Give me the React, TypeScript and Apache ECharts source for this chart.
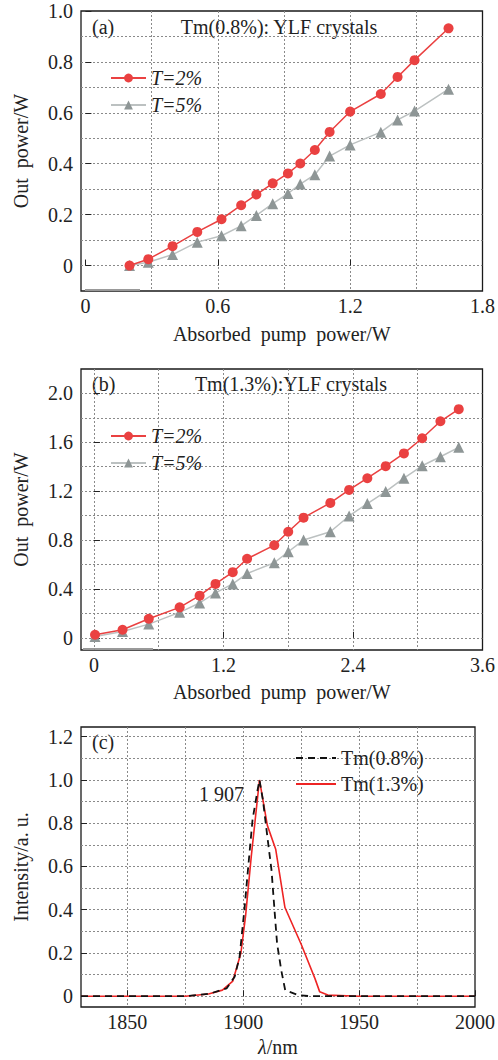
import React, { useEffect, useRef } from "react";
import * as echarts from "echarts";

// ---- Panel (a): Tm(0.8%):YLF ----
const pumpA = [0.2, 0.285, 0.395, 0.507, 0.617, 0.706, 0.775, 0.849, 0.918, 0.974, 1.04, 1.107, 1.2, 1.339, 1.415, 1.492, 1.646];
const outA_T2 = [0, 0.025, 0.076, 0.132, 0.182, 0.237, 0.279, 0.323, 0.362, 0.401, 0.454, 0.525, 0.605, 0.674, 0.741, 0.807, 0.932];
const outA_T5 = [0, 0.013, 0.043, 0.092, 0.117, 0.156, 0.197, 0.243, 0.283, 0.32, 0.357, 0.43, 0.474, 0.524, 0.572, 0.607, 0.693];

// ---- Panel (b): Tm(1.3%):YLF ----
const pumpB = [0.01, 0.265, 0.508, 0.794, 0.979, 1.126, 1.286, 1.419, 1.671, 1.8, 1.942, 2.19, 2.364, 2.533, 2.703, 2.872, 3.041, 3.21, 3.38];
const outB_T2 = [0.025, 0.066, 0.156, 0.249, 0.345, 0.441, 0.537, 0.647, 0.758, 0.868, 0.983, 1.104, 1.21, 1.306, 1.405, 1.509, 1.633, 1.772, 1.871];
const outB_T5 = [0.011, 0.052, 0.112, 0.208, 0.285, 0.367, 0.441, 0.526, 0.614, 0.704, 0.8, 0.868, 0.997, 1.099, 1.197, 1.306, 1.408, 1.482, 1.559];

// ---- Panel (c): spectra ----
const wl08 = [1830, 1850, 1875, 1885.7, 1892.8, 1896.3, 1898.4, 1900.5, 1902, 1904, 1906.2, 1907, 1908.5, 1910.4, 1912.2, 1913.6, 1914.6, 1916.4, 1918.1, 1923.7, 1929, 1950, 1975, 2000];
const int08 = [0, 0, 0, 0.012, 0.036, 0.09, 0.18, 0.4, 0.58, 0.815, 0.954, 1.0, 0.907, 0.738, 0.583, 0.383, 0.244, 0.12, 0.028, 0.005, 0, 0, 0, 0];
const wl13 = [1830, 1850, 1875, 1885, 1891, 1895.5, 1899, 1901, 1903.5, 1907, 1910.4, 1914, 1918, 1925, 1931, 1933, 1936.5, 1950, 1975, 2000];
const int13 = [0, 0, 0, 0.01, 0.028, 0.07, 0.2, 0.37, 0.65, 1.0, 0.79, 0.68, 0.41, 0.24, 0.08, 0.02, 0.005, 0, 0, 0];

// ---- Tick / grid values ----
const xTicksA = [0, 0.6, 1.2, 1.8];
const xGridA = [0.3, 0.6, 0.9, 1.2, 1.5];
const yTicksA = [0, 0.2, 0.4, 0.6, 0.8, 1.0];
const yGridA = [0, 0.1, 0.2, 0.3, 0.4, 0.5, 0.6, 0.7, 0.8, 0.9];

const xTicksB = [0, 1.2, 2.4, 3.6];
const xGridB = [0, 0.6, 1.2, 1.8, 2.4, 3.0];
const yTicksB = [0, 0.4, 0.8, 1.2, 1.6, 2.0];
const yGridB = [0, 0.2, 0.4, 0.6, 0.8, 1.0, 1.2, 1.4, 1.6, 1.8, 2.0];

const xTicksC = [1850, 1900, 1950, 2000];
const xGridC = [1850, 1875, 1900, 1925, 1950, 1975];
const yTicksC = [0, 0.2, 0.4, 0.6, 0.8, 1.0, 1.2];
const yGridC = [0, 0.1, 0.2, 0.3, 0.4, 0.5, 0.6, 0.7, 0.8, 0.9, 1.0, 1.1, 1.2];

const FONT = '"Liberation Serif", "DejaVu Serif", serif';
const INK = "#222";
const RED = "#ea4141";
const GRAY_SYM = "#8e9696";
const GRAY_LINE = "#bcc1c1";

const zip = (xs: number[], ys: number[]) => xs.map((x, i) => [x, ys[i]]);
const fmt1 = (v: number) => (v === 0 ? "0" : v.toFixed(1));

function mainX(grid: number, min: number, max: number, ticks: number[], fmt: (v: number) => string, name: any, nameGap: number, rich?: any) {
  return {
    gridIndex: grid, type: "value", min, max, position: "bottom",
    axisLine: { show: false },
    axisTick: { show: true, inside: true, length: 6, customValues: ticks, lineStyle: { color: INK, width: 1 } },
    axisLabel: { customValues: ticks, formatter: fmt, fontSize: 20, color: INK, fontFamily: FONT, margin: 5 },
    splitLine: { show: false },
    name, nameLocation: "middle", nameGap,
    nameTextStyle: { fontSize: 20, color: INK, fontFamily: FONT, rich },
  };
}
function gridX(grid: number, min: number, max: number, vals: number[]) {
  return {
    gridIndex: grid, type: "value", min, max, position: "bottom",
    axisLine: { show: false },
    axisTick: { show: false, customValues: vals },
    axisLabel: { show: false },
    splitLine: { show: true, lineStyle: { type: [2, 2], color: "#8a8a8a", width: 1 } },
  };
}
function mainY(grid: number, min: number, max: number, ticks: number[], name: string) {
  return {
    gridIndex: grid, type: "value", min, max, position: "left",
    axisLine: { show: false },
    axisTick: { show: true, inside: true, length: 6, customValues: ticks, lineStyle: { color: INK, width: 1 } },
    axisLabel: { customValues: ticks, formatter: fmt1, fontSize: 20, color: INK, fontFamily: FONT, margin: 8 },
    splitLine: { show: false },
    name, nameLocation: "middle", nameGap: 50,
    nameTextStyle: { fontSize: 20, color: INK, fontFamily: FONT },
  };
}
function gridY(grid: number, min: number, max: number, vals: number[]) {
  return {
    gridIndex: grid, type: "value", min, max, position: "left",
    axisLine: { show: false },
    axisTick: { show: false, customValues: vals },
    axisLabel: { show: false },
    splitLine: { show: true, lineStyle: { type: [2, 2], color: "#8a8a8a", width: 1 } },
  };
}

export default function App() {
  const ref = useRef<HTMLDivElement>(null);
  useEffect(() => {
    if (!ref.current) return;
    const chart = echarts.init(ref.current, null, { renderer: "svg" });
    const gridStyle = { show: true, borderColor: "#1a1a1a", borderWidth: 1.3, backgroundColor: "transparent" };
    const legendText = { fontSize: 20, color: INK, fontFamily: FONT, lineHeight: 22 };
    const option: any = {
      animation: false,
      backgroundColor: "#fff",
      grid: [
        { left: 81, top: 11, width: 403, height: 280, ...gridStyle },
        { left: 81, top: 369, width: 403, height: 281, ...gridStyle },
        { left: 81, top: 727, width: 403, height: 280, ...gridStyle },
      ],
      xAxis: [
        mainX(0, -0.02, 1.8, xTicksA, fmt1, "Absorbed  pump  power/W", 33),
        gridX(0, -0.02, 1.8, xGridA),
        mainX(1, -0.12, 3.6, xTicksB, fmt1, "Absorbed  pump  power/W", 32),
        gridX(1, -0.12, 3.6, xGridB),
        mainX(2, 1830, 2000, xTicksC, (v: number) => String(v), "{i|λ}/nm", 30, { i: { fontStyle: "italic", fontSize: 20, fontFamily: FONT, color: INK } }),
        gridX(2, 1830, 2000, xGridC),
      ],
      yAxis: [
        mainY(0, -0.1, 1.0, yTicksA, "Out  power/W"),
        gridY(0, -0.1, 1.0, yGridA),
        mainY(1, -0.1, 2.2, yTicksB, "Out  power/W"),
        gridY(1, -0.1, 2.2, yGridB),
        mainY(2, -0.05, 1.245, yTicksC, "Intensity/a. u."),
        gridY(2, -0.05, 1.245, yGridC),
      ],
      legend: [
        {
          data: ["T=2%", "T=5%"], orient: "vertical", left: 105, top: 62, itemWidth: 35, itemHeight: 11, itemGap: 5,
          selectedMode: false, textStyle: { ...legendText, fontStyle: "italic" },
        },
        {
          data: ["T=2%", "T=5%"], orient: "vertical", left: 105, top: 420, itemWidth: 35, itemHeight: 11, itemGap: 5,
          selectedMode: false, textStyle: { ...legendText, fontStyle: "italic" },
        },
        {
          data: ["Tm(0.8%)", "Tm(1.3%)"], orient: "vertical", left: 290, top: 742, itemWidth: 40, itemHeight: 10, itemGap: 4,
          selectedMode: false, textStyle: legendText, itemStyle: { opacity: 0 },
        },
      ],
      series: [
        {
          name: "T=2%", type: "line", xAxisIndex: 0, yAxisIndex: 0, data: zip(pumpA, outA_T2),
          symbol: "circle", symbolSize: 10, itemStyle: { color: RED }, lineStyle: { color: RED, width: 1.5 }, z: 4,
        },
        {
          name: "T=5%", type: "line", xAxisIndex: 0, yAxisIndex: 0, data: zip(pumpA, outA_T5),
          symbol: "triangle", symbolSize: 11, itemStyle: { color: GRAY_SYM }, lineStyle: { color: GRAY_LINE, width: 1.5 }, z: 3,
        },
        {
          name: "T=2%", type: "line", xAxisIndex: 2, yAxisIndex: 2, data: zip(pumpB, outB_T2),
          symbol: "circle", symbolSize: 10, itemStyle: { color: RED }, lineStyle: { color: RED, width: 1.5 }, z: 4,
        },
        {
          name: "T=5%", type: "line", xAxisIndex: 2, yAxisIndex: 2, data: zip(pumpB, outB_T5),
          symbol: "triangle", symbolSize: 11, itemStyle: { color: GRAY_SYM }, lineStyle: { color: GRAY_LINE, width: 1.5 }, z: 3,
        },
        {
          name: "Tm(0.8%)", type: "line", xAxisIndex: 4, yAxisIndex: 4, data: zip(wl08, int08),
          symbol: "none", itemStyle: { color: "#111" }, lineStyle: { color: "#111", width: 1.8, type: [7, 5] }, z: 4,
        },
        {
          name: "Tm(1.3%)", type: "line", xAxisIndex: 4, yAxisIndex: 4, data: zip(wl13, int13),
          symbol: "none", itemStyle: { color: "#ee2424" }, lineStyle: { color: "#ee2424", width: 1.6 }, z: 3,
        },
      ],
      graphic: [
        { type: "text", x: 92, y: 27, style: { text: "(a)", font: `20px ${FONT}`, fill: INK, verticalAlign: "middle", align: "left" } },
        { type: "text", x: 279, y: 27, style: { text: "Tm(0.8%): YLF crystals", font: `20px ${FONT}`, fill: INK, verticalAlign: "middle", align: "center" } },
        { type: "text", x: 92, y: 384, style: { text: "(b)", font: `20px ${FONT}`, fill: INK, verticalAlign: "middle", align: "left" } },
        { type: "text", x: 291, y: 384, style: { text: "Tm(1.3%):YLF crystals", font: `20px ${FONT}`, fill: INK, verticalAlign: "middle", align: "center" } },
        { type: "text", x: 92, y: 742, style: { text: "(c)", font: `20px ${FONT}`, fill: INK, verticalAlign: "middle", align: "left" } },
        { type: "text", x: 199, y: 794, style: { text: "1 907", font: `20px ${FONT}`, fill: INK, verticalAlign: "middle", align: "left" } },
        { type: "line", shape: { x1: 85, y1: 290, x2: 140, y2: 290 }, style: { stroke: "#999", lineWidth: 2 } },
        { type: "line", shape: { x1: 83, y1: 649, x2: 153, y2: 649 }, style: { stroke: "#999", lineWidth: 2 } },
      ],
    };
    chart.setOption(option);
    return () => chart.dispose();
  }, []);
  return <div ref={ref} style={{ position: "absolute", left: 0, top: 0, width: 498, height: 1060 }} />;
}
